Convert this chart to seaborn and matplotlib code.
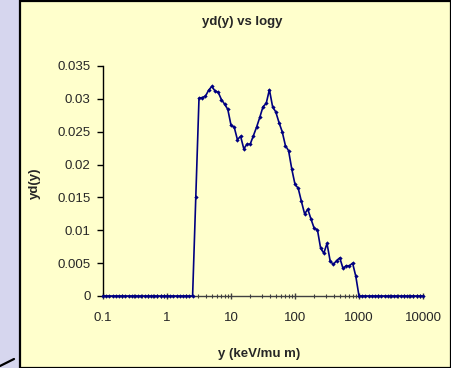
import numpy as np
import pandas as pd
import seaborn as sns
import matplotlib
matplotlib.use("Agg")
import matplotlib.pyplot as plt
from matplotlib.lines import Line2D
from matplotlib.patches import Rectangle
from matplotlib.ticker import FixedLocator, LogLocator, NullFormatter

# lineal energy grid: 20 log-spaced bins per decade from 0.1 to 10000 keV/um
bin_index = np.arange(0, 101)
y_kev_um = 0.1 * 10 ** (bin_index / 20.0)

# yd(y) for bins 29..79; all other bins are zero
nonzero_start = 29
yd_nonzero = [
    0.0151, 0.0301, 0.0302, 0.0304, 0.0313, 0.0319, 0.0312, 0.0310, 0.0299, 0.0292,
    0.0284, 0.0260, 0.0257, 0.0238, 0.0243, 0.0224, 0.0231, 0.0231, 0.0244, 0.0257,
    0.0272, 0.0288, 0.0293, 0.0314, 0.0288, 0.0280, 0.0264, 0.0250, 0.0229, 0.0221,
    0.0193, 0.0170, 0.0164, 0.0144, 0.0125, 0.0132, 0.0117, 0.0103, 0.0101, 0.0073,
    0.0065, 0.0080, 0.0053, 0.0048, 0.0054, 0.0058, 0.0042, 0.0046, 0.0046, 0.0050,
    0.0030,
]
yd = np.zeros(len(y_kev_um))
yd[nonzero_start:nonzero_start + len(yd_nonzero)] = yd_nonzero

y_ticks = [0, 0.005, 0.01, 0.015, 0.02, 0.025, 0.03, 0.035]
y_tick_labels = ["0", "0.005", "0.01", "0.015", "0.02", "0.025", "0.03", "0.035"]
x_ticks = [0.1, 1, 10, 100, 1000, 10000]
x_tick_labels = ["0.1", "1", "10", "100", "1000", "10000"]

df = pd.DataFrame({"y": y_kev_um, "yd": yd})

sns.set_style("white")
plt.rcParams["font.family"] = ["Liberation Sans", "DejaVu Sans"]

W, H = 452, 368
fig = plt.figure(figsize=(W / 100, H / 100), dpi=100)
fig.patch.set_facecolor("#d6d6ee")

# pale yellow chart panel with black frame
panel = Rectangle((20.5 / W, 0.5 / H), 430.5 / W, 366.5 / H, transform=fig.transFigure,
                  facecolor="#ffffcc", edgecolor="black", linewidth=1.6, zorder=0)
fig.add_artist(panel)
fig.add_artist(Line2D([0 / W, 14 / W], [1 - 366 / H, 1 - 359 / H], color="black",
                      linewidth=1.6, transform=fig.transFigure))

ax = fig.add_axes([103 / W, 72 / H, 320 / W, 230 / H])
ax.set_facecolor("none")

sns.lineplot(data=df, x="y", y="yd", ax=ax, color="#000080", linewidth=1.2,
             marker="D", markersize=2.2, markeredgewidth=0, zorder=3, clip_on=False)

ax.set_xscale("log")
ax.set_xlim(0.1, 10000)
ax.set_ylim(0, 0.035)

ax.xaxis.set_major_locator(FixedLocator(x_ticks))
ax.set_xticklabels(x_tick_labels)
ax.xaxis.set_minor_locator(LogLocator(base=10, subs=np.arange(2, 10)))
ax.xaxis.set_minor_formatter(NullFormatter())
ax.set_yticks(y_ticks)
ax.set_yticklabels(y_tick_labels)

for s in ["top", "right"]:
    ax.spines[s].set_visible(False)
ax.spines["left"].set_color("black")
ax.spines["left"].set_linewidth(1.0)
ax.spines["bottom"].set_color("#404040")
ax.spines["bottom"].set_linewidth(1.0)

ax.tick_params(axis="y", which="major", direction="out", length=4, width=1,
               color="black", labelsize=9.5, pad=5, left=True)
ax.tick_params(axis="x", which="major", direction="inout", length=5, width=1,
               color="#404040", labelsize=9.5, pad=9, bottom=True)
ax.tick_params(axis="x", which="minor", direction="inout", length=3, width=0.8,
               color="#404040", bottom=True)

ax.set_xlabel("")
ax.set_ylabel("")
ax.grid(False)

fig.text(242 / W, 1 - 22 / H, "yd(y) vs logy", ha="center", va="center",
         fontsize=9.5, fontweight="bold")
fig.text(35 / W, 1 - 183 / H, "yd(y)", ha="center", va="center", rotation=90,
         fontsize=9.5, fontweight="bold")
fig.text(259 / W, 1 - 354 / H, "y (keV/mu m)", ha="center", va="center",
         fontsize=9.5, fontweight="bold")

fig.savefig("out.png", dpi=100, facecolor=fig.get_facecolor())
